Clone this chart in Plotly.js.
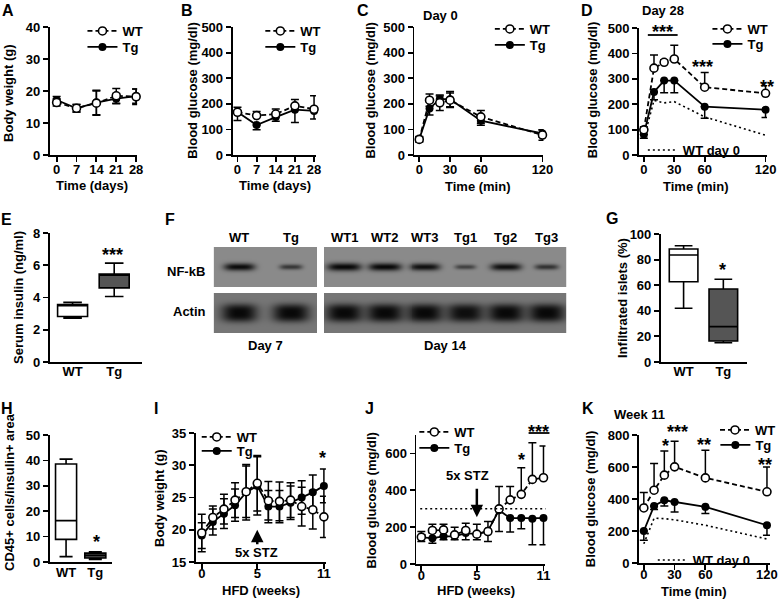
<!DOCTYPE html>
<html><head><meta charset="utf-8">
<script src="https://cdn.plot.ly/plotly-3.0.1.min.js"></script>
<style>html,body{margin:0;padding:0;background:#fff}#chart{width:781px;height:599px}</style>
</head><body><div id="chart"></div>
<script>
// ================= DATA =================
// A: body weight (g) over days
const dayTicks = [0, 7, 14, 21, 28];
const aWT    = [16.4, 14.6, 16.2, 18.5, 18.2];
const aWTerr = [1.1, 1.2, 3.8, 2.3, 2.4];
const aTg    = [17.2, 14.6, 16.4, 17.6, 18.4];
const aTgErr = [1.1, 1.2, 3.8, 1.6, 2.2];
// B: blood glucose (mg/dl) over days
const bWT    = [167, 154, 160, 192, 179];
const bWTerr = [20, 16, 20, 25, 52];
const bTg    = [168, 117, 148, 177, 172];
const bTgErr = [33, 18, 16, 50, 31];
// C/D/K: GTT time points (min)
const gttMin = [0, 10, 20, 30, 60, 120];
// C: Day 0
const cWT    = [61, 214, 204, 214, 149, 78];
const cWTerr = [10, 24, 30, 28, 25, 20];
const cTg    = [62, 182, 218, 218, 134, 84];
const cTgErr = [10, 26, 12, 30, 18, 15];
// D: Day 28
const dWT     = [99, 342, 365, 378, 267, 243];
const dWTerr  = [12, 52, 10, 54, 58, 30];
const dTg     = [81, 248, 293, 293, 190, 178];
const dTgErr  = [15, 30, 48, 48, 45, 30];
const dWTday0 = [65, 215, 205, 210, 150, 78];
// E: serum insulin (ng/ml) box
const boxGroups = ['WT', 'Tg'];
const eMin = [2.72, 4.06], eQ1 = [2.82, 4.6], eMed = [3.55, 5.4], eQ3 = [3.56, 5.45], eMax = [3.7, 6.13];
// F: western blot band signal (relative)
const blotLanes   = ['WT', 'Tg', 'WT1', 'WT2', 'WT3', 'Tg1', 'Tg2', 'Tg3'];
const blotGroups  = ['Day 7', 'Day 7', 'Day 14', 'Day 14', 'Day 14', 'Day 14', 'Day 14', 'Day 14'];
const blotRows    = ['NF-kB', 'Actin'];
const nfkbSignal  = [0.9, 0.45, 1.0, 0.95, 0.85, 0.35, 0.85, 0.5];
const actinSignal = [1, 1, 1, 1, 1, 0.95, 1, 1];
// G: infiltrated islets (%)
const gMin = [42, 15], gQ1 = [62.7, 16.4], gMed = [83.6, 27.6], gQ3 = [88.3, 57], gMax = [90.8, 64.6];
// H: CD45+ cells / insulin+ area
const hMin = [2.1, 1.0], hQ1 = [8.9, 1.6], hMed = [16.3, 2.6], hQ3 = [38.6, 3.5], hMax = [40.5, 4.0];
// I/J: HFD weeks
const hfdWeeks = [0, 1, 2, 3, 4, 5, 6, 7, 8, 9, 10, 11];
const iWT    = [19.5, 21.9, 23.2, 24.6, 25.9, 27.2, 24.5, 24.4, 24.6, 23.6, 23.1, 22.0];
const iWTerr = [2.9, 1.8, 2.3, 2.7, 4.0, 4.3, 3.0, 3.0, 2.7, 3.0, 3.0, 3.2];
const iTg    = [19.1, 21.2, 22.5, 23.8, 25.8, 26.8, 23.6, 23.6, 24.2, 25.0, 25.8, 26.8];
const iTgErr = [2.0, 2.0, 2.3, 2.5, 4.3, 4.5, 2.5, 2.5, 2.6, 2.6, 2.7, 2.6];
const jWT    = [146, 182, 185, 158, 182, 162, 176, 299, 348, 378, 459, 468];
const jWTerr = [31, 34, 31, 42, 39, 54, 54, 121, 72, 144, 199, 172];
const jTg    = [144, 140, 150, 150, 168, 162, 180, 292, 249, 249, 245, 249];
const jTgErr = [22, 27, 19, 19, 37, 31, 58, 116, 76, 58, 141, 145];
const jThreshold = 300;
const stzWeek = 5;
// K: Week 11 GTT
const kWT     = [344, 455, 549, 601, 532, 445];
const kWTerr  = [96, 167, 151, 160, 173, 155];
const kTg     = [200, 357, 392, 382, 351, 236];
const kTgErr  = [58, 22, 35, 63, 42, 63];
const kWTday0 = [120, 280, 277, 270, 236, 150];

// ================= LAYOUT HELPERS =================
const W = 781, H = 599;
const FONT = 'Liberation Sans, Arial, Helvetica, sans-serif';
const px = v => v / W;
const py = v => 1 - v / H;
const xd = (a, b) => [a / W, b / W];
const yd = (top, bot) => [1 - bot / H, 1 - top / H];
const zeros = n => Array(n).fill(0);
const tf = {family: FONT, size: 13, color: '#000', weight: 'bold'};
const ERR = {color: '#000', thickness: 1.5, width: 4};

function axName(i, l) { return l + (i === 1 ? '' : i); }

const layout = {
  width: W, height: H, margin: {l: 0, r: 0, t: 0, b: 0},
  paper_bgcolor: '#fff', plot_bgcolor: 'rgba(0,0,0,0)',
  font: {family: FONT, color: '#000', size: 13},
  showlegend: true, annotations: [], shapes: []
};

function addAxes(i, xdom, ydom, xr, yr, xopt, yopt) {
  const base = {showline: true, linecolor: '#000', linewidth: 1.8, ticks: 'outside', ticklen: 5,
    tickwidth: 1.8, tickcolor: '#000', showgrid: false, zeroline: false, tickfont: tf, fixedrange: true};
  layout[axName(i, 'xaxis')] = Object.assign({}, base, {domain: xdom, range: xr, anchor: axName(i, 'y'),
    ticklabelstandoff: -3}, xopt);
  layout[axName(i, 'yaxis')] = Object.assign({}, base, {domain: ydom, range: yr, anchor: axName(i, 'x')}, yopt);
}

const traces = [];

function pair(i, x, wt, wtErr, tg, tgErr, oneSided, legWT, legTg) {
  const xa = axName(i, 'x'), ya = axName(i, 'y');
  const eWT = oneSided ? Object.assign({type: 'data', symmetric: false, array: wtErr, arrayminus: zeros(wt.length)}, ERR)
                       : Object.assign({type: 'data', array: wtErr}, ERR);
  const eTg = oneSided ? Object.assign({type: 'data', symmetric: false, array: zeros(tg.length), arrayminus: tgErr}, ERR)
                       : Object.assign({type: 'data', array: tgErr}, ERR);
  traces.push({type: 'scatter', mode: 'lines+markers', name: 'Tg', x: x, y: tg, xaxis: xa, yaxis: ya,
    legend: legTg, cliponaxis: false,
    line: {color: '#000', width: 1.8}, marker: {symbol: 'circle', size: 8, color: '#000'}, error_y: eTg});
  traces.push({type: 'scatter', mode: 'lines+markers', name: 'WT', x: x, y: wt, xaxis: xa, yaxis: ya,
    legend: legWT, cliponaxis: false,
    line: {color: '#000', width: 1.8, dash: '5px,3px'},
    marker: {symbol: 'circle', size: 8, color: '#fff', line: {color: '#000', width: 1.6}}, error_y: eWT});
}

function dotted(i, x, y, leg) {
  traces.push({type: 'scatter', mode: 'lines', name: 'WT day 0', x: x, y: y,
    xaxis: axName(i, 'x'), yaxis: axName(i, 'y'), legend: leg, cliponaxis: false,
    line: {color: '#000', width: 1.6, dash: '2px,3px'}});
}

function boxes(i, mn, q1, med, q3, mx) {
  const fills = ['#ffffff', '#555555'];
  boxGroups.forEach((g, k) => {
    traces.push({type: 'box', name: g, x: [k], q1: [q1[k]], median: [med[k]], q3: [q3[k]],
      lowerfence: [mn[k]], upperfence: [mx[k]], width: 0.72, whiskerwidth: 0.62,
      fillcolor: fills[k], line: {color: '#000', width: 1.6}, boxpoints: false,
      xaxis: axName(i, 'x'), yaxis: axName(i, 'y'), showlegend: false, hoverinfo: 'skip'});
  });
}

function legendAt(name, leftPx, centerPx) {
  layout[name] = {x: px(leftPx), y: py(centerPx - 11), xanchor: 'left', yanchor: 'top',
    bgcolor: 'rgba(0,0,0,0)', borderwidth: 0, font: tf, tracegroupgap: 0, itemwidth: 30};
}

function text(t, x, y, opts) {
  layout.annotations.push(Object.assign({text: t, x: px(x), y: py(y), xref: 'paper', yref: 'paper',
    showarrow: false, xanchor: 'center', yanchor: 'middle', font: tf}, opts || {}));
}
function ytitle(t, x, y) { text(t, x, y, {textangle: -90}); }
function stars(t, x, y) { text(t, x, y, {font: Object.assign({}, tf, {size: 18}), yshift: -5}); }
function sigBar(x0, x1, y) {
  layout.shapes.push({type: 'line', xref: 'paper', yref: 'paper', x0: px(x0), x1: px(x1), y0: py(y), y1: py(y),
    line: {color: '#000', width: 1.8}});
}

// ================= PANELS =================
const minTicks = {tickvals: [0, 30, 60, 120]};
const boxX = {tickvals: [0, 1], ticktext: boxGroups, ticks: ''};
const lowRow = {ticklabelstandoff: -6};

// A
addAxes(1, xd(50, 138), yd(27, 155), [-2.45, 28.35], [0, 40], {tickvals: dayTicks}, {dtick: 10});
pair(1, dayTicks, aWT, aWTerr, aTg, aTgErr, false, 'legend', 'legend2');
legendAt('legend', 83, 27); legendAt('legend2', 83, 43);
// B
addAxes(2, xd(234, 318), yd(27, 155), [-1.82, 28.7], [0, 500], {tickvals: dayTicks}, {dtick: 100});
pair(2, dayTicks, bWT, bWTerr, bTg, bTgErr, true, 'legend3', 'legend4');
legendAt('legend3', 262, 27); legendAt('legend4', 262, 43);
// C
addAxes(3, xd(417, 547), yd(27, 155), [-4.8, 121], [0, 500], minTicks, {dtick: 100});
pair(3, gttMin, cWT, cWTerr, cTg, cTgErr, false, 'legend5', 'legend6');
legendAt('legend5', 493, 25); legendAt('legend6', 493, 41);
// D
addAxes(4, xd(643, 772), yd(28, 155), [-4.9, 121.5], [0, 500], minTicks, {dtick: 100});
dotted(4, gttMin, dWTday0, 'legend9');
pair(4, gttMin, dWT, dWTerr, dTg, dTgErr, true, 'legend7', 'legend8');
legendAt('legend7', 712, 25); legendAt('legend8', 712, 40);
legendAt('legend9', 647, 146);
// E
addAxes(5, xd(50, 143), yd(233, 362), [-0.55, 1.67], [0, 8], boxX, {dtick: 2});
boxes(5, eMin, eQ1, eMed, eQ3, eMax);
// G
addAxes(7, xd(665, 752), yd(234, 362), [-0.575, 1.6], [0, 100], boxX, {dtick: 20});
boxes(7, gMin, gQ1, gMed, gQ3, gMax);
// H
addAxes(8, xd(50, 113), yd(435, 562), [-0.56, 1.58], [0, 50], Object.assign({}, boxX, {ticklabelstandoff: -2}), {dtick: 10});
boxes(8, hMin, hQ1, hMed, hQ3, hMax);
// I
addAxes(9, xd(197, 328), yd(433, 562), [-0.54, 11.18], [15, 35], Object.assign({tickvals: [0, 5, 11]}, lowRow), {dtick: 5});
pair(9, hfdWeeks, iWT, iWTerr, iTg, iTgErr, false, 'legend10', 'legend11');
legendAt('legend10', 198, 433); legendAt('legend11', 198, 447);
// J
addAxes(10, xd(419, 549), yd(435, 564), [-0.45, 11.18], [0, 700], Object.assign({tickvals: [0, 5, 11]}, lowRow), {tickvals: [0, 200, 400, 600]});
layout.shapes.push({type: 'line', xref: 'x10', yref: 'y10', x0: -0.1, x1: 11.3, y0: jThreshold, y1: jThreshold,
  line: {color: '#000', width: 1.5, dash: '2px,3px'}});
pair(10, hfdWeeks, jWT, jWTerr, jTg, jTgErr, true, 'legend12', 'legend13');
legendAt('legend12', 417, 428); legendAt('legend13', 417, 444);
// K
addAxes(11, xd(643, 775), yd(435, 563), [-4.8, 123], [0, 800], Object.assign({}, minTicks, lowRow), {dtick: 200});
dotted(11, gttMin, kWTday0, 'legend16');
pair(11, gttMin, kWT, kWTerr, kTg, kTgErr, true, 'legend14', 'legend15');
legendAt('legend14', 720, 426); legendAt('legend15', 720, 441);
legendAt('legend16', 657, 556);

// F: western blot drawn as a grey-level heatmap
(function () {
  const BW = 355, BH = 86;
  const groupBox = {'Day 7': [0, 104], 'Day 14': [111, 355]};
  const rowBox = {'NF-kB': [46, 86], 'Actin': [0, 40]};
  const groupNames = Object.keys(groupBox);
  const laneX = blotLanes.map((l, k) => {
    const g = blotGroups[k];
    const members = blotLanes.filter((_, m) => blotGroups[m] === g);
    const idx = members.indexOf(l);
    const b = groupBox[g];
    return b[0] + (idx + 0.5) * (b[1] - b[0]) / members.length;
  });
  const xs = [], ys = [], z = [];
  for (let c = 0; c < BW; c++) xs.push(c + 0.5);
  for (let r = 0; r < BH; r++) {
    const y = r + 0.5; ys.push(y);
    const row = [];
    const rname = blotRows.find(n => y >= rowBox[n][0] && y <= rowBox[n][1]);
    for (let c = 0; c < BW; c++) {
      const x = c + 0.5;
      const g = groupNames.find(n => x >= groupBox[n][0] && x <= groupBox[n][1]);
      if (!rname || !g) { row.push(null); continue; }
      const cy = (rowBox[rname][0] + rowBox[rname][1]) / 2;
      const bg = rname === 'NF-kB' ? 138 : 118;
      let keep = 1;
      blotLanes.forEach((l, k) => {
        if (blotGroups[k] !== g) return;
        const dx = Math.abs(x - laneX[k]), dy = Math.abs(y - cy);
        let d;
        if (rname === 'NF-kB') {
          const s = nfkbSignal[k];
          const a = 7 + 10 * s, b = 1.6 + 2.4 * s, amp = Math.min(1, 0.3 + 0.75 * s);
          d = amp * Math.exp(-Math.pow(dx / a, 4) - Math.pow(dy / b, 2));
        } else {
          const s = actinSignal[k];
          d = s * Math.exp(-Math.pow(dx / 18.5, 3) - Math.pow(dy / 9, 3));
        }
        keep *= (1 - d);
      });
      const dark = 1 - keep;
      row.push(bg * (1 - dark) + 8 * dark);
    }
    z.push(row);
  }
  traces.push({type: 'heatmap', x: xs, y: ys, z: z, xaxis: 'x6', yaxis: 'y6', zmin: 0, zmax: 255,
    colorscale: [[0, '#000000'], [1, '#ffffff']], showscale: false, hoverinfo: 'skip', showlegend: false});
  const hidden = {visible: false, fixedrange: true};
  layout.xaxis6 = Object.assign({domain: xd(215, 570), range: [0, BW], anchor: 'y6'}, hidden);
  layout.yaxis6 = Object.assign({domain: yd(247, 333), range: [0, BH], anchor: 'x6'}, hidden);
  blotLanes.forEach((l, k) => {
    layout.annotations.push({text: l, xref: 'x6', yref: 'paper', x: laneX[k], y: py(238),
      showarrow: false, xanchor: 'center', yanchor: 'middle', font: tf});
  });
  groupNames.forEach(g => {
    const b = groupBox[g];
    layout.annotations.push({text: g, xref: 'x6', yref: 'paper', x: (b[0] + b[1]) / 2, y: py(345),
      showarrow: false, xanchor: 'center', yanchor: 'middle', font: tf});
  });
})();
text('NF-kB', 187, 271);
text('Actin', 191, 311);

// ================= TEXT =================
const LF = Object.assign({}, tf, {size: 16});
[['A', 8.5], ['B', 188], ['C', 365], ['D', 591]].forEach(l =>
  text(l[0], l[1], 0, {font: LF, yanchor: 'top', y: 1}));
[['E', 7, 220], ['F', 171, 220], ['G', 616, 218], ['H', 7, 408], ['I', 157, 408], ['J', 372, 408], ['K', 592, 408]]
  .forEach(l => text(l[0], l[1], l[2], {font: LF}));

ytitle('Body weight (g)', 8, 93);
ytitle('Blood glucose (mg/dl)', 193, 90);
ytitle('Blood glucose (mg/dl)', 372, 90);
ytitle('Blood glucose (mg/dl)', 596, 90);
ytitle('Serum insulin (ng/ml)', 18, 297);
ytitle('Infiltrated islets (%)', 626, 298);
ytitle('CD45+ cells/insulin+ area', 9, 492);
ytitle('Body weight (g)', 160, 498);
ytitle('Blood glucose (mg/dl)', 373, 500);
ytitle('Blood glucose (mg/dl)', 594, 499);

text('Time (days)', 93, 185);
text('Time (days)', 277, 185);
text('Time (min)', 481, 187);
text('Time (min)', 700, 187);
text('HFD (weeks)', 263, 590);
text('HFD (weeks)', 479, 590);
text('Time (min)', 698, 591);

text('Day 0', 443, 15);
text('Day 28', 667, 10);
text('Week 11', 644, 414);
text('5x STZ', 258, 552);
text('5x STZ', 471, 475);

// STZ arrows
layout.annotations.push({text: '', xref: 'x9', yref: 'y9', x: stzWeek, y: 20.0, ax: 0, ay: 16,
  showarrow: true, arrowhead: 2, arrowsize: 1, arrowwidth: 2.5, arrowcolor: '#000'});
layout.annotations.push({text: '', xref: 'x10', yref: 'y10', x: stzWeek, y: 254, ax: 0, ay: -30,
  showarrow: true, arrowhead: 2, arrowsize: 1, arrowwidth: 2.5, arrowcolor: '#000'});

// significance
stars('***', 667, 27); sigBar(652, 682, 35);
stars('***', 707, 62);
stars('**', 772, 82);
stars('***', 113, 250);
stars('*', 727, 265);
stars('*', 97, 537);
stars('*', 325, 453);
stars('*', 525, 455);
stars('***', 542, 427); sigBar(532, 553, 433);
stars('*', 670, 441);
stars('***', 682, 427);
stars('**', 709, 440);
stars('**', 770, 460);

Plotly.newPlot('chart', traces, layout, {displayModeBar: false, staticPlot: true});
</script>
</body></html>
